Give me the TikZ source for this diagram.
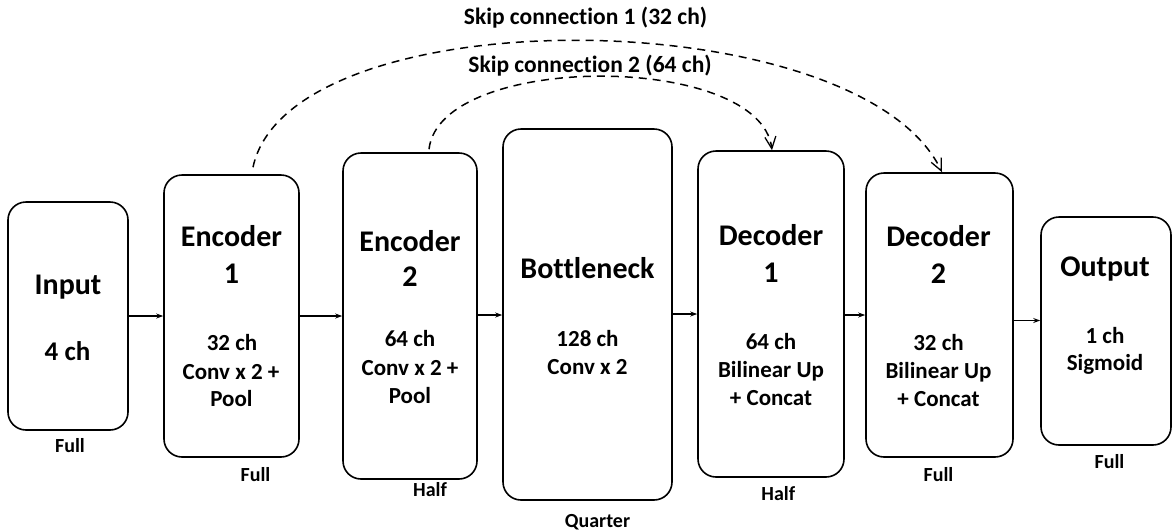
\documentclass[tikz,border=0pt]{standalone}
\usepackage{fontspec}
\setmainfont{Carlito}[Ligatures=NoCommon]
\usetikzlibrary{arrows.meta}
\tikzset{
  blk/.style={draw, line width=1.6pt, rounded corners=18pt, inner sep=0pt},
  ttl/.style={font=\fontsize{30}{36}\selectfont\bfseries, anchor=base, inner sep=0pt},
  mid/.style={font=\fontsize{27}{32}\selectfont\bfseries, anchor=base, inner sep=0pt},
  sml/.style={font=\fontsize{23}{28}\selectfont\bfseries, anchor=base, inner sep=0pt},
  res/.style={font=\fontsize{20}{24}\selectfont\bfseries, anchor=base, inner sep=0pt},
  skl/.style={font=\fontsize{23.5}{28}\selectfont\bfseries, anchor=base, inner sep=0pt},
  flow/.style={line width=1.4pt, -{Stealth[length=7pt,width=5pt]}},
  skip/.style={line width=1.5pt, dash pattern=on 8pt off 6pt, -{Straight Barb[length=12pt,width=11pt,line width=1.3pt]}}
}
\begin{document}
\begin{tikzpicture}[x=1pt,y=-1pt]
\useasboundingbox (0,0) rectangle (1172,531);
% boxes
\node[blk, minimum width=120pt, minimum height=228pt] (in)   at (68,316) {};
\node[blk, minimum width=135pt, minimum height=282pt] (enc1) at (231.5,316) {};
\node[blk, minimum width=134pt, minimum height=326pt] (enc2) at (410,316) {};
\node[blk, minimum width=169pt, minimum height=371pt] (bot)  at (587.5,314.5) {};
\node[blk, minimum width=146pt, minimum height=326pt] (dec1) at (771,314) {};
\node[blk, minimum width=147pt, minimum height=284pt] (dec2) at (939.5,315) {};
\node[blk, minimum width=130pt, minimum height=228pt] (out)  at (1106,331) {};
% texts
\node[ttl] (tin) at (68,294) {Input};
\node[mid] (tin2) at (67.5,360) {4 ch};
\node[ttl] (te1a) at (231.5,246.7) {Encoder};
\node[ttl] (te1b) at (231.5,283.3) {1};
\node[sml] (te1c) at (232,350.7) {32 ch};
\node[sml] (te1d) at (231,379.3) {Conv x 2 +};
\node[sml] (te1e) at (231.5,406.7) {Pool};
\node[ttl] (te2a) at (410,251) {Encoder};
\node[ttl] (te2b) at (410,286.7) {2};
\node[sml] (te2c) at (410,346.7) {64 ch};
\node[sml] (te2d) at (410,375) {Conv x 2 +};
\node[sml] (te2e) at (410,403.3) {Pool};
\node[ttl] (tba) at (587.5,278.3) {Bottleneck};
\node[sml] (tbb) at (587.5,346) {128 ch};
\node[sml] (tbc) at (587.5,374) {Conv x 2};
\node[ttl] (td1a) at (771,245) {Decoder};
\node[ttl] (td1b) at (771,282.3) {1};
\node[sml] (td1c) at (771,349.3) {64 ch};
\node[sml] (td1d) at (771,377.3) {Bilinear Up};
\node[sml] (td1e) at (771,405.7) {+ Concat};
\node[ttl] (td2a) at (938.5,246) {Decoder};
\node[ttl] (td2b) at (938.5,283.3) {2};
\node[sml] (td2c) at (938.5,350) {32 ch};
\node[sml] (td2d) at (938.5,378.3) {Bilinear Up};
\node[sml] (td2e) at (938.5,406.7) {+ Concat};
\node[ttl] (toa) at (1105,276.7) {Output};
\node[sml] (tob) at (1105,343.3) {1 ch};
\node[sml] (toc) at (1105,370.7) {Sigmoid};
% resolution labels
\node[res] (rin) at (70,452.7) {Full};
\node[res] (re1) at (255.5,481.7) {Full};
\node[res] (re2) at (430,496.7) {Half};
\node[res] (rb)  at (597.5,527.5) {Quarter};
\node[res] (rd1) at (778.3,500) {Half};
\node[res] (rd2) at (938.5,481.7) {Full};
\node[res] (ro)  at (1109.5,468.3) {Full};
% skip labels
\node[skl] (s1) at (585.5,24) {Skip connection 1 (32 ch)};
\node[skl] (s2) at (590,72.3) {Skip connection 2 (64 ch)};
% flow arrows
\draw[flow] (in.east) -- (enc1.west);
\draw[flow] (enc1.east) -- (enc2.west);
\draw[flow] ([yshift=1pt]enc2.east) -- ([yshift=1pt]enc2.east -| bot.west);
\draw[flow] ([yshift=0.5pt]bot.east) -- ([yshift=0.5pt]bot.east -| dec1.west);
\draw[flow] ([yshift=-1pt]dec1.east) -- ([yshift=-1pt]dec1.east -| dec2.west);
\draw[flow] ([yshift=-5.5pt]dec2.east) -- ([yshift=-5.5pt]dec2.east -| out.west);
% skip connections
\draw[skip] ([xshift=21.5pt,yshift=7pt]enc1.north) .. controls (290,-5) and (860,0) .. ([xshift=2.5pt]dec2.north);
\draw[skip] ([xshift=19pt,yshift=3pt]enc2.north) .. controls (440,52) and (760,52) .. ([xshift=1pt]dec1.north);
\end{tikzpicture}
\end{document}
